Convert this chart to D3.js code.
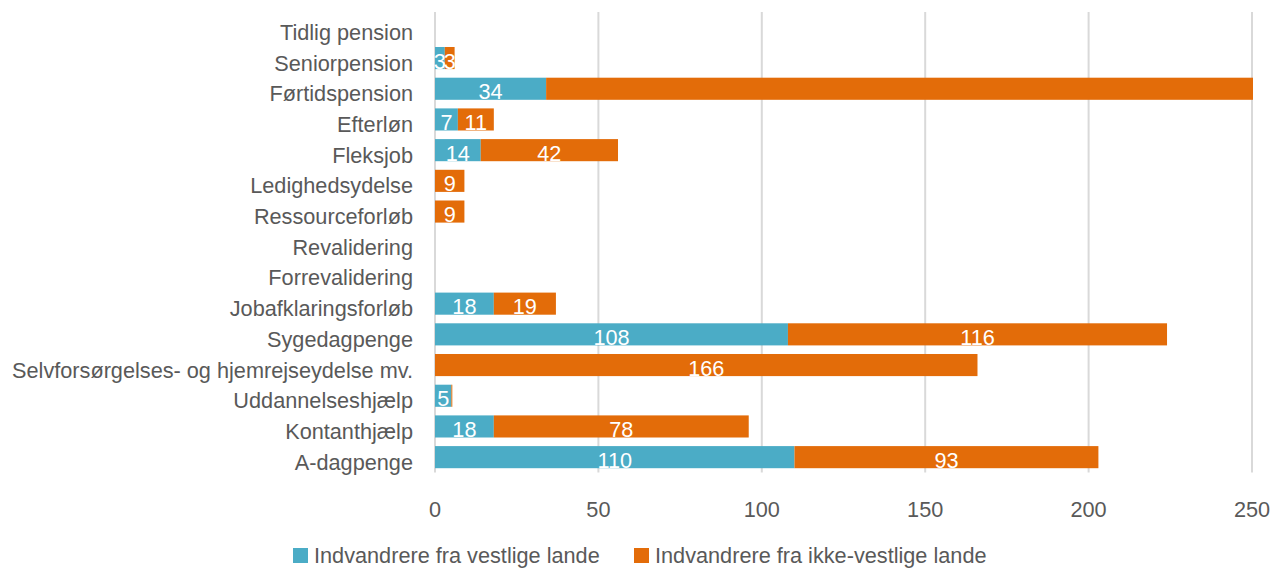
<!DOCTYPE html>
<html><head><meta charset="utf-8">
<script src="https://cdn.jsdelivr.net/npm/d3@7"></script>
<style>body{margin:0;background:#fff;} text{font-family:"Liberation Sans",Arial,sans-serif;}</style>
</head><body><svg id="c" width="1273" height="568"></svg>
<script>
const categories = ["Tidlig pension","Seniorpension","Førtidspension","Efterløn","Fleksjob","Ledighedsydelse","Ressourceforløb","Revalidering","Forrevalidering","Jobafklaringsforløb","Sygedagpenge","Selvforsørgelses- og hjemrejseydelse mv.","Uddannelseshjælp","Kontanthjælp","A-dagpenge"];
const vestlige = [0,3,34,7,14,0,0,0,0,18,108,0,5,18,110];
const ikkeVestlige = [0,3,480,11,42,9,9,0,0,19,116,166,0.3,78,93];
const seriesNames = ["Indvandrere fra vestlige lande","Indvandrere fra ikke-vestlige lande"];
const colors = ["#4BACC6","#E36C09"];
const ticks = [0,50,100,150,200,250];

(function(){
const svg = d3.select("#c");
const pL = 435, pR = 1252, pT = 12, pB = 472.5;
const x = d3.scaleLinear().domain([0,250]).range([pL,pR]);
const y = d3.scaleBand().domain(categories).range([pT,pB]).paddingInner(0.28).paddingOuter(0.14);
const FS = 21.7;

svg.append("g").selectAll("line").data(ticks.slice(1)).join("line")
  .attr("x1",d=>x(d)).attr("x2",d=>x(d)).attr("y1",12).attr("y2",pB)
  .attr("stroke","#d9d9d9").attr("stroke-width",2);
svg.append("line").attr("x1",pL).attr("x2",pL).attr("y1",12).attr("y2",pB)
  .attr("stroke","#d9d9d9").attr("stroke-width",2);

svg.append("defs").append("clipPath").attr("id","clip").append("rect")
  .attr("x",pL-2).attr("y",0).attr("width",pR-pL+3).attr("height",568);

const data = categories.map((c,i)=>({c, a:vestlige[i], b:ikkeVestlige[i]}));
const gb = svg.append("g").attr("clip-path","url(#clip)");
const segs = [];
data.forEach(d=>{
  segs.push({c:d.c, x0:0, x1:d.a, v:d.a, s:0});
  segs.push({c:d.c, x0:d.a, x1:d.a+d.b, v:d.b, s:1});
});
gb.selectAll("rect").data(segs.filter(s=>s.v>0)).join("rect")
  .attr("x",s=>x(s.x0)).attr("width",s=>x(s.x1)-x(s.x0))
  .attr("y",s=>y(s.c)).attr("height",y.bandwidth())
  .attr("fill",s=>colors[s.s]);

svg.append("g").selectAll("text").data(segs.filter(s=>s.v>=1 && (s.x0+s.x1)/2<=250)).join("text")
  .attr("x",s=>x((s.x0+s.x1)/2)).attr("y",s=>y(s.c)+y.bandwidth()/2+10.5)
  .attr("text-anchor","middle").attr("fill","#fff").attr("font-size",FS)
  .text(s=>s.v);

svg.append("g").selectAll("text").data(categories).join("text")
  .attr("x",413).attr("y",c=>y(c)+y.bandwidth()/2+12.5)
  .attr("text-anchor","end").attr("fill","#595959").attr("font-size",FS)
  .text(c=>c);

svg.append("g").selectAll("text").data(ticks).join("text")
  .attr("x",d=>x(d)).attr("y",517).attr("text-anchor","middle")
  .attr("fill","#595959").attr("font-size",FS).text(d=>d);

const leg = [{x:293,tx:314},{x:634,tx:655}];
seriesNames.forEach((n,i)=>{
  svg.append("rect").attr("x",leg[i].x).attr("y",548).attr("width",15).attr("height",15).attr("fill",colors[i]);
  svg.append("text").attr("x",leg[i].tx).attr("y",563).attr("fill","#595959").attr("font-size",FS).text(n);
});
})();
</script></body></html>
